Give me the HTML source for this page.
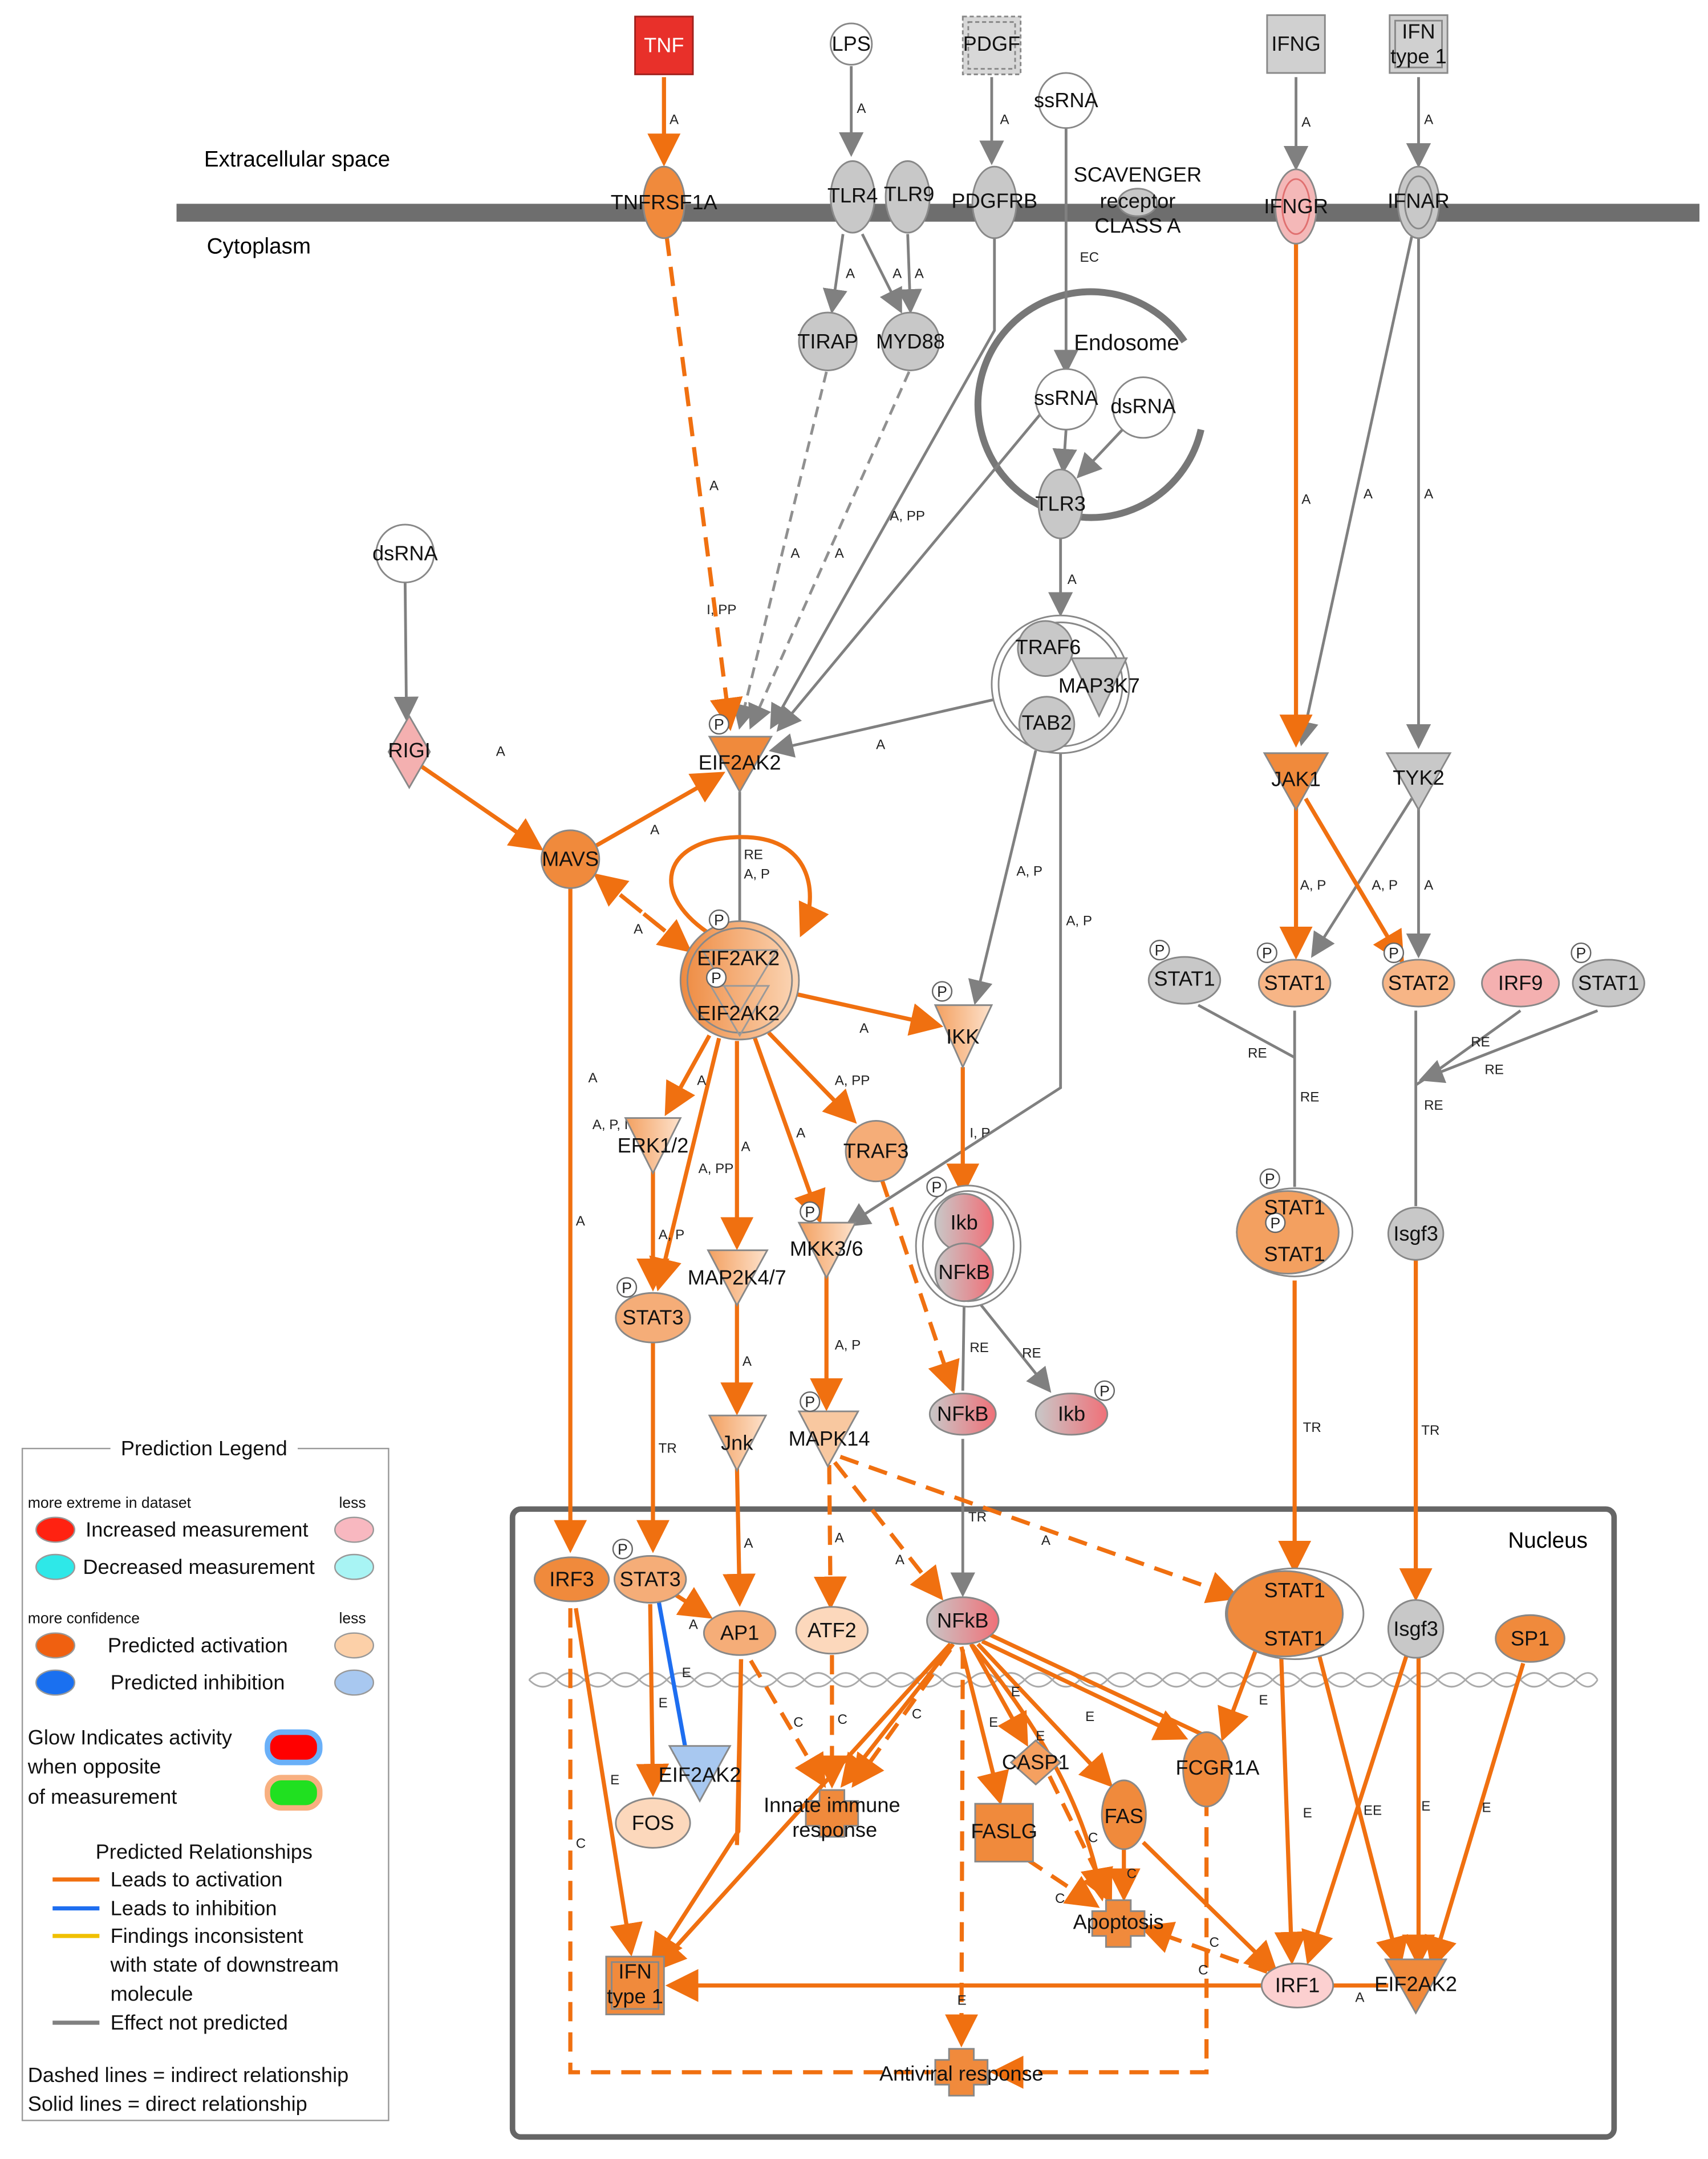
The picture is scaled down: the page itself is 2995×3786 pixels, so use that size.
<!DOCTYPE html>
<html><head><meta charset="utf-8"><style>
html,body{margin:0;padding:0;background:#fff}
svg{display:block}
text{font-family:"Liberation Sans",sans-serif}
.n{font-size:15px;text-anchor:middle;dominant-baseline:middle;fill:#111}
.l{font-size:10px;fill:#222}
.o{stroke:#f07010;stroke-width:3;fill:none}
.od{stroke:#f07010;stroke-width:3;fill:none;stroke-dasharray:14,8}
.g{stroke:#808080;stroke-width:2;fill:none}
.gd{stroke:#909090;stroke-width:2;fill:none;stroke-dasharray:8,5}
.lg{font-size:15px;fill:#111}
.ls{font-size:11px;fill:#111}
</style></head><body>
<svg width="2995" height="3786" viewBox="0 0 1240 1568" xmlns="http://www.w3.org/2000/svg">
<defs>
<marker id="ao" markerWidth="8" markerHeight="8" refX="7" refY="4" orient="auto" markerUnits="strokeWidth"><path d="M0,0 L8,4 L0,8 z" fill="#f07010"/></marker>
<marker id="ag" markerWidth="9" markerHeight="9" refX="8" refY="4.5" orient="auto" markerUnits="strokeWidth"><path d="M0,0 L9,4.5 L0,9 z" fill="#808080"/></marker>
<linearGradient id="og" x1="0" x2="1"><stop offset="0" stop-color="#ee8a40"/><stop offset="1" stop-color="#fbd7b8"/></linearGradient>
<linearGradient id="pg" x1="0" x2="1"><stop offset="0" stop-color="#c8c8c8"/><stop offset="1" stop-color="#f07078"/></linearGradient>
<linearGradient id="dg" x1="0" x2="1"><stop offset="0" stop-color="#f3a060"/><stop offset="1" stop-color="#fde2cc"/></linearGradient>
</defs>

<!-- membrane -->
<rect x="128" y="148" width="1106" height="13" fill="#6e6e6e"/>
<text x="148" y="121" style="font-size:16px">Extracellular space</text>
<text x="150" y="184" style="font-size:16px">Cytoplasm</text>

<!-- nucleus -->
<rect x="372" y="1096" width="800" height="456" rx="6" fill="none" stroke="#666" stroke-width="4"/>
<text x="1095" y="1124" style="font-size:16px">Nucleus</text>
<!-- DNA -->
<g stroke="#aaa" stroke-width="1.2" fill="none">
<path d="M384,1220 q10,-10 20,0 t20,0 t20,0 t20,0 t20,0 t20,0 t20,0 t20,0 t20,0 t20,0 t20,0 t20,0 t20,0 t20,0 t20,0 t20,0 t20,0 t20,0 t20,0 t20,0 t20,0 t20,0 t20,0 t20,0 t20,0 t20,0 t20,0 t20,0 t20,0 t20,0 t20,0 t20,0 t20,0 t20,0 t20,0 t20,0 t20,0 t20,0 t16,0"/>
<path d="M384,1220 q10,10 20,0 t20,0 t20,0 t20,0 t20,0 t20,0 t20,0 t20,0 t20,0 t20,0 t20,0 t20,0 t20,0 t20,0 t20,0 t20,0 t20,0 t20,0 t20,0 t20,0 t20,0 t20,0 t20,0 t20,0 t20,0 t20,0 t20,0 t20,0 t20,0 t20,0 t20,0 t20,0 t20,0 t20,0 t20,0 t20,0 t20,0 t20,0 t16,0"/>
</g>

<!-- endosome -->
<path d="M860,248 A82,82 0 1 0 872,312" stroke="#777" stroke-width="5" fill="none"/>
<text x="818" y="250" class="n" style="font-size:16px">Endosome</text>

<!-- gray edges -->
<g class="g">
<line x1="618" y1="48" x2="618" y2="112" marker-end="url(#ag)"/>
<line x1="720" y1="56" x2="720" y2="118" marker-end="url(#ag)"/>
<line x1="941" y1="56" x2="941" y2="122" marker-end="url(#ag)"/>
<line x1="1030" y1="56" x2="1030" y2="120" marker-end="url(#ag)"/>
<line x1="612" y1="170" x2="604" y2="226" marker-end="url(#ag)"/>
<line x1="626" y1="170" x2="654" y2="226" marker-end="url(#ag)"/>
<line x1="659" y1="170" x2="661" y2="226" marker-end="url(#ag)"/>
<polyline points="774,93 774,270" marker-end="url(#ag)"/>
<line x1="774" y1="312" x2="772" y2="342" marker-end="url(#ag)"/>
<line x1="815" y1="312" x2="783" y2="346" marker-end="url(#ag)"/>
<line x1="770" y1="390" x2="770" y2="446" marker-end="url(#ag)"/>
<polyline points="722,172 722,240 560,528" marker-end="url(#ag)"/>
<line x1="756" y1="300" x2="565" y2="530" marker-end="url(#ag)"/>
<line x1="722" y1="508" x2="560" y2="545" marker-end="url(#ag)"/>
<line x1="294" y1="422" x2="295" y2="522" marker-end="url(#ag)"/>
<line x1="537" y1="575" x2="537" y2="670"/>
<line x1="752" y1="545" x2="708" y2="728" marker-end="url(#ag)"/>
<polyline points="770,540 770,790 615,890" marker-end="url(#ag)"/>
<line x1="1025" y1="172" x2="945" y2="540" marker-end="url(#ag)"/>
<line x1="1030" y1="172" x2="1030" y2="542" marker-end="url(#ag)"/>
<line x1="1025" y1="580" x2="953" y2="694" marker-end="url(#ag)"/>
<line x1="1030" y1="585" x2="1030" y2="694" marker-end="url(#ag)"/>
<polyline points="870,730 940,768"/><line x1="940" y1="734" x2="940" y2="862"/>
<polyline points="1104,734 1040,780 1028,788"/><polyline points="1160,734 1032,784" marker-end="url(#ag)"/>
<line x1="1028" y1="734" x2="1028" y2="876"/>
<line x1="700" y1="945" x2="699" y2="1010"/>
<line x1="710" y1="945" x2="762" y2="1010" marker-end="url(#ag)"/>
</g>
<g class="gd">
<line x1="600" y1="270" x2="537" y2="528" marker-end="url(#ag)"/>
<line x1="660" y1="270" x2="545" y2="528" marker-end="url(#ag)"/>
</g>
<line x1="699" y1="1045" x2="699" y2="1158" stroke="#808080" stroke-width="2" marker-end="url(#ag)"/>

<!-- orange edges -->
<g class="o">
<line x1="482" y1="56" x2="482" y2="118" marker-end="url(#ao)"/>
<line x1="941" y1="176" x2="941" y2="540" marker-end="url(#ao)"/>
<line x1="305" y1="556" x2="392" y2="616" marker-end="url(#ao)"/>
<line x1="433" y1="614" x2="524" y2="562" marker-end="url(#ao)"/>
<path d="M518,680 C470,650 480,610 535,608 C590,606 595,650 582,678" marker-end="url(#ao)"/>
<line x1="941" y1="585" x2="941" y2="694" marker-end="url(#ao)"/>
<line x1="948" y1="580" x2="1018" y2="698" marker-end="url(#ao)"/>
<line x1="578" y1="722" x2="682" y2="745" marker-end="url(#ao)"/>
<line x1="515" y1="752" x2="484" y2="808" marker-end="url(#ao)"/>
<line x1="522" y1="754" x2="478" y2="935" marker-end="url(#ao)"/>
<line x1="535" y1="756" x2="535" y2="905" marker-end="url(#ao)"/>
<line x1="548" y1="754" x2="595" y2="886" marker-end="url(#ao)"/>
<line x1="558" y1="750" x2="620" y2="814" marker-end="url(#ao)"/>
<line x1="699" y1="775" x2="699" y2="866" marker-end="url(#ao)"/>
<line x1="474" y1="850" x2="474" y2="935" marker-end="url(#ao)"/>
<line x1="414" y1="645" x2="414" y2="1125" marker-end="url(#ao)"/>
<line x1="474" y1="975" x2="474" y2="1125" marker-end="url(#ao)"/>
<line x1="535" y1="945" x2="535" y2="1025" marker-end="url(#ao)"/>
<line x1="600" y1="925" x2="600" y2="1022" marker-end="url(#ao)"/>
<line x1="535" y1="1065" x2="537" y2="1164" marker-end="url(#ao)"/>
<line x1="940" y1="930" x2="940" y2="1140" marker-end="url(#ao)"/>
<line x1="1028" y1="915" x2="1028" y2="1160" marker-end="url(#ao)"/>
<line x1="490" y1="1158" x2="515" y2="1174" marker-end="url(#ao)"/>
<line x1="472" y1="1165" x2="474" y2="1302" marker-end="url(#ao)"/>
<line x1="418" y1="1168" x2="458" y2="1418" marker-end="url(#ao)"/>
<line x1="538" y1="1205" x2="535" y2="1340 "/>
<polyline points="538,1205 536,1330 474,1426" marker-end="url(#ao)"/>
<line x1="690" y1="1194" x2="476" y2="1430" marker-end="url(#ao)"/>
<line x1="692" y1="1194" x2="612" y2="1296" marker-end="url(#ao)"/>
<line x1="698" y1="1196" x2="726" y2="1308" marker-end="url(#ao)"/>
<line x1="705" y1="1194" x2="745" y2="1266" marker-end="url(#ao)"/>
<line x1="710" y1="1194" x2="806" y2="1296" marker-end="url(#ao)"/>
<line x1="713" y1="1192" x2="860" y2="1262" marker-end="url(#ao)"/>
<line x1="716" y1="1186" x2="878" y2="1262" />
<path d="M706,1195 C760,1260 790,1320 800,1378" marker-end="url(#ao)"/>
<line x1="915" y1="1190" x2="888" y2="1262" marker-end="url(#ao)"/>
<line x1="930" y1="1195" x2="938" y2="1424" marker-end="url(#ao)"/>
<line x1="956" y1="1195" x2="1016" y2="1428" marker-end="url(#ao)"/>
<line x1="1022" y1="1200" x2="950" y2="1424" marker-end="url(#ao)"/>
<line x1="1030" y1="1203" x2="1030" y2="1426" marker-end="url(#ao)"/>
<line x1="1106" y1="1208" x2="1040" y2="1428" marker-end="url(#ao)"/>
<line x1="830" y1="1338" x2="926" y2="1432" marker-end="url(#ao)"/>
<line x1="920" y1="1442" x2="486" y2="1442" marker-end="url(#ao)"/>
<line x1="962" y1="1442" x2="1008" y2="1442"/>
<line x1="816" y1="1342" x2="816" y2="1378" marker-end="url(#ao)"/>
</g>
<g class="od">
<line x1="484" y1="172" x2="530" y2="528" marker-end="url(#ao)"/>
<line x1="433" y1="636" x2="500" y2="690" marker-end="url(#ao)"/>
<line x1="500" y1="690" x2="433" y2="636" marker-end="url(#ao)"/>
<line x1="640" y1="856" x2="692" y2="1010" marker-end="url(#ao)"/>
<line x1="606" y1="1062" x2="683" y2="1160" marker-end="url(#ao)"/>
<line x1="610" y1="1058" x2="898" y2="1160" marker-end="url(#ao)"/>
<line x1="602" y1="1064" x2="603" y2="1166" marker-end="url(#ao)"/>
<line x1="604" y1="1202" x2="604" y2="1296" marker-end="url(#ao)"/>
<line x1="545" y1="1206" x2="598" y2="1296" marker-end="url(#ao)"/>
<line x1="690" y1="1198" x2="620" y2="1296" marker-end="url(#ao)"/>
<line x1="699" y1="1198" x2="698" y2="1484" marker-end="url(#ao)"/>
<polyline points="414,1168 414,1505 676,1505"/>
<polyline points="876,1305 876,1505 722,1505" marker-end="url(#ao)"/>
<line x1="745" y1="1350" x2="796" y2="1384" marker-end="url(#ao)"/>
<line x1="762" y1="1290" x2="806" y2="1380" marker-end="url(#ao)"/>
<line x1="920" y1="1432" x2="830" y2="1400" marker-end="url(#ao)"/>
</g>
<line x1="478" y1="1162" x2="498" y2="1272" stroke="#1e6ef0" stroke-width="3"/>
<line x1="488" y1="1272" x2="508" y2="1270" stroke="#1e6ef0" stroke-width="3"/>

<!-- edge labels -->
<g class="l">
<text x="486" y="90">A</text><text x="622" y="82">A</text><text x="726" y="90">A</text><text x="945" y="92">A</text><text x="1034" y="90">A</text>
<text x="614" y="202">A</text><text x="648" y="202">A</text><text x="664" y="202">A</text><text x="784" y="190">EC</text>
<text x="515" y="356">A</text><text x="574" y="405">A</text><text x="606" y="405">A</text><text x="646" y="378">A, PP</text><text x="513" y="446">I, PP</text>
<text x="775" y="424">A</text><text x="636" y="544">A</text><text x="360" y="549">A</text><text x="472" y="606">A</text><text x="460" y="678">A</text>
<text x="540" y="624">RE</text><text x="540" y="638">A, P</text>
<text x="945" y="366">A</text><text x="990" y="362">A</text><text x="1034" y="362">A</text>
<text x="944" y="646">A, P</text><text x="996" y="646">A, P</text><text x="1034" y="646">A</text>
<text x="738" y="636">A, P</text><text x="774" y="672">A, P</text><text x="624" y="750">A</text>
<text x="906" y="768">RE</text><text x="944" y="800">RE</text><text x="1068" y="760">RE</text><text x="1078" y="780">RE</text><text x="1034" y="806">RE</text>
<text x="427" y="786">A</text><text x="506" y="788">A</text><text x="430" y="820">A, P, I</text><text x="538" y="836">A</text><text x="507" y="852">A, PP</text><text x="578" y="826">A</text><text x="606" y="788">A, PP</text>
<text x="704" y="826">I, P</text><text x="478" y="900">A, P</text><text x="418" y="890">A</text>
<text x="704" y="982">RE</text><text x="742" y="986">RE</text><text x="606" y="980">A, P</text><text x="539" y="992">A</text>
<text x="478" y="1055">TR</text><text x="703" y="1105">TR</text><text x="946" y="1040">TR</text><text x="1032" y="1042">TR</text>
<text x="540" y="1124">A</text><text x="606" y="1120">A</text><text x="650" y="1136">A</text><text x="756" y="1122">A</text><text x="500" y="1183">A</text>
<text x="495" y="1218">E</text><text x="478" y="1240">E</text><text x="443" y="1296">E</text><text x="418" y="1342">C</text>
<text x="576" y="1254">C</text><text x="608" y="1252">C</text><text x="662" y="1248">C</text><text x="718" y="1254">E</text><text x="734" y="1232">E</text><text x="752" y="1264">E</text><text x="788" y="1250">E</text><text x="790" y="1338">C</text><text x="766" y="1382">C</text><text x="818" y="1364">C</text>
<text x="914" y="1238">E</text><text x="946" y="1320">E</text><text x="990" y="1318">EE</text><text x="1032" y="1315">E</text><text x="1076" y="1316">E</text><text x="878" y="1414">C</text><text x="870" y="1434">C</text><text x="984" y="1454">A</text><text x="695" y="1456">E</text>
</g>

<!-- nodes -->
<g stroke="#888" stroke-width="1.2">
<rect x="461" y="12" width="42" height="42" fill="#e8302a" stroke="#a0201c"/>
<circle cx="618" cy="32" r="15" fill="#fff"/>
<rect x="699" y="12" width="42" height="42" fill="#d8d8d8" stroke-dasharray="3,2"/><rect x="703" y="16" width="34" height="34" fill="none" stroke-dasharray="3,2"/>
<circle cx="774" cy="73" r="20" fill="#fff"/>
<rect x="920" y="11" width="42" height="42" fill="#d0d0d0"/>
<rect x="1009" y="11" width="42" height="42" fill="#d0d0d0"/><rect x="1013" y="15" width="34" height="34" fill="none"/>
<ellipse cx="482" cy="147" rx="15" ry="26" fill="#f08a3c"/>
<ellipse cx="619" cy="143" rx="16" ry="26" fill="#c8c8c8"/>
<ellipse cx="659" cy="143" rx="16" ry="26" fill="#c8c8c8"/>
<ellipse cx="722" cy="147" rx="16" ry="26" fill="#c8c8c8"/>
<ellipse cx="826" cy="147" rx="14" ry="10" fill="#c8c8c8"/>
<ellipse cx="941" cy="150" rx="15" ry="27" fill="#f4b8b8"/><ellipse cx="941" cy="150" rx="10" ry="20" fill="none" stroke="#e07070"/>
<ellipse cx="1030" cy="147" rx="15" ry="26" fill="#c8c8c8"/><ellipse cx="1030" cy="147" rx="10" ry="19" fill="none"/>
<circle cx="601" cy="248" r="21" fill="#c8c8c8"/>
<circle cx="661" cy="248" r="21" fill="#c8c8c8"/>
<circle cx="774" cy="290" r="22" fill="#fff"/>
<circle cx="830" cy="296" r="22" fill="#fff"/>
<ellipse cx="770" cy="366" rx="16" ry="25" fill="#c8c8c8"/>
<circle cx="770" cy="497" r="50" fill="#fff"/><circle cx="770" cy="497" r="45" fill="none"/>
<circle cx="759" cy="471" r="20" fill="#c8c8c8"/>
<path d="M778,478 L818,478 L798,520 z" fill="#c8c8c8"/>
<circle cx="760" cy="526" r="20" fill="#c8c8c8"/>
<circle cx="294" cy="402" r="21" fill="#fff"/>
<path d="M297,520 L312,546 L297,572 L282,546 z" fill="#f4b0b0"/>
<path d="M515,535 L560,535 L537,575 z" fill="#f08a3c"/>
<circle cx="414" cy="624" r="21" fill="#f08a3c"/>
<circle cx="537" cy="712" r="43" fill="url(#og)"/><circle cx="537" cy="712" r="38" fill="none"/>
<path d="M510,690 L564,690 L537,735 z" fill="none" stroke="#999"/>
<path d="M516,716 L558,716 L537,752 z" fill="none" stroke="#999"/>
<path d="M679,730 L720,730 L699,775 z" fill="url(#dg)"/>
<path d="M918,547 L964,547 L941,588 z" fill="#f08a3c"/>
<path d="M1007,547 L1053,547 L1030,588 z" fill="#c8c8c8"/>
<ellipse cx="860" cy="712" rx="26" ry="17" fill="#c8c8c8"/>
<ellipse cx="940" cy="714" rx="26" ry="17" fill="#f7b586"/>
<ellipse cx="1030" cy="714" rx="26" ry="17" fill="#f7b586"/>
<ellipse cx="1104" cy="714" rx="28" ry="17" fill="#f4b0b0"/>
<ellipse cx="1168" cy="714" rx="26" ry="17" fill="#c8c8c8"/>
<path d="M454,812 L494,812 L474,852 z" fill="url(#dg)"/>
<circle cx="636" cy="836" r="22" fill="#f5ad78"/>
<ellipse cx="474" cy="957" rx="27" ry="18" fill="#f5ad78"/>
<path d="M514,908 L557,908 L535,948 z" fill="url(#dg)"/>
<path d="M580,888 L621,888 L600,928 z" fill="url(#dg)"/>
<ellipse cx="703" cy="905" rx="38" ry="44" fill="#fff"/><ellipse cx="703" cy="905" rx="33" ry="40" fill="none"/>
<circle cx="700" cy="888" r="21" fill="url(#pg)"/>
<circle cx="700" cy="924" r="21" fill="url(#pg)"/>
<ellipse cx="699" cy="1027" rx="24" ry="15" fill="url(#pg)"/>
<ellipse cx="778" cy="1027" rx="26" ry="15" fill="url(#pg)"/>
<path d="M515,1028 L556,1028 L535,1068 z" fill="url(#dg)"/>
<path d="M580,1025 L623,1025 L601,1065 z" fill="#f8c8a0"/>
<ellipse cx="940" cy="895" rx="42" ry="32" fill="#fff"/><ellipse cx="935" cy="895" rx="37" ry="30" fill="#f3a060"/>
<ellipse cx="1028" cy="896" rx="20" ry="19" fill="#c8c8c8"/>
<!-- nucleus nodes -->
<ellipse cx="415" cy="1147" rx="27" ry="16" fill="#f08a3c"/>
<ellipse cx="472" cy="1147" rx="26" ry="17" fill="#f5ad78"/>
<ellipse cx="537" cy="1186" rx="26" ry="16" fill="#f5ad78"/>
<ellipse cx="604" cy="1184" rx="26" ry="17" fill="#fcd8bc"/>
<ellipse cx="699" cy="1177" rx="26" ry="17" fill="url(#pg)"/>
<ellipse cx="940" cy="1172" rx="50" ry="33" fill="#fff"/><ellipse cx="933" cy="1172" rx="42" ry="31" fill="#f08a3c"/>
<ellipse cx="1028" cy="1183" rx="20" ry="21" fill="#c8c8c8"/>
<ellipse cx="1111" cy="1190" rx="25" ry="17" fill="#f08a3c"/>
<path d="M486,1268 L530,1268 L508,1308 z" fill="#a8c8f0"/>
<ellipse cx="474" cy="1324" rx="27" ry="18" fill="#fcd8bc"/>
<path d="M595,1300 h18 v8 h10 v18 h-10 v8 h-18 v-8 h-10 v-18 h10 z" fill="#f08a3c"/>
<path d="M752,1264 L770,1280 L752,1296 L734,1280 z" fill="#f5a060"/>
<ellipse cx="816" cy="1318" rx="16" ry="25" fill="#f08a3c"/>
<rect x="708" y="1310" width="42" height="42" fill="#f08a3c"/>
<ellipse cx="876" cy="1285" rx="17" ry="27" fill="#f08a3c"/>
<path d="M803,1380 h18 v8 h10 v18 h-10 v8 h-18 v-8 h-10 v-18 h10 z" fill="#f08a3c"/>
<rect x="440" y="1421" width="42" height="42" fill="#f08a3c"/><rect x="444" y="1425" width="34" height="34" fill="none"/>
<ellipse cx="942" cy="1442" rx="26" ry="16" fill="#fcd0d0"/>
<path d="M1006,1423 L1050,1423 L1028,1462 z" fill="#f08a3c"/>
<path d="M689,1488 h18 v8 h10 v18 h-10 v8 h-18 v-8 h-10 v-18 h10 z" fill="#f08a3c"/>
</g>
<!-- P markers -->
<g fill="#fff" stroke="#666" stroke-width="1">
<circle cx="522" cy="526" r="7"/><circle cx="522" cy="668" r="7"/><circle cx="520" cy="710" r="7"/><circle cx="684" cy="720" r="7"/>
<circle cx="842" cy="690" r="7"/><circle cx="920" cy="692" r="7"/><circle cx="1012" cy="692" r="7"/><circle cx="1148" cy="692" r="7"/>
<circle cx="588" cy="880" r="7"/><circle cx="680" cy="862" r="7"/><circle cx="455" cy="935" r="7"/><circle cx="588" cy="1018" r="7"/><circle cx="802" cy="1010" r="7"/>
<circle cx="922" cy="856" r="7"/><circle cx="926" cy="888" r="7"/><circle cx="452" cy="1125" r="7"/>
</g>
<g class="l" style="font-size:11px" text-anchor="middle">
<text x="522" y="530" text-anchor="middle">P</text><text x="522" y="672">P</text><text x="520" y="714">P</text><text x="684" y="724">P</text>
<text x="842" y="694">P</text><text x="920" y="696">P</text><text x="1012" y="696">P</text><text x="1148" y="696">P</text>
<text x="588" y="884">P</text><text x="680" y="866">P</text><text x="455" y="939">P</text><text x="588" y="1022">P</text><text x="802" y="1014">P</text>
<text x="922" y="860">P</text><text x="926" y="892">P</text><text x="452" y="1129">P</text>
</g>

<!-- node labels -->
<g class="n">
<text x="482" y="34" fill="#fff">TNF</text><text x="618" y="33">LPS</text><text x="720" y="33">PDGF</text><text x="774" y="74">ssRNA</text>
<text x="941" y="33">IFNG</text><text x="1030" y="24">IFN</text><text x="1030" y="42">type 1</text>
<text x="482" y="148">TNFRSF1A</text><text x="619" y="143">TLR4</text><text x="660" y="142">TLR9</text><text x="722" y="147">PDGFRB</text>
<text x="826" y="128">SCAVENGER</text><text x="826" y="147">receptor</text><text x="826" y="165">CLASS A</text>
<text x="941" y="151">IFNGR</text><text x="1030" y="147">IFNAR</text>
<text x="601" y="249">TIRAP</text><text x="661" y="249">MYD88</text><text x="774" y="290">ssRNA</text><text x="830" y="296">dsRNA</text><text x="770" y="367">TLR3</text>
<text x="761" y="471">TRAF6</text><text x="798" y="499">MAP3K7</text><text x="760" y="526">TAB2</text>
<text x="294" y="403">dsRNA</text><text x="297" y="546">RIGI</text><text x="537" y="555">EIF2AK2</text><text x="414" y="625">MAVS</text>
<text x="536" y="697">EIF2AK2</text><text x="536" y="737">EIF2AK2</text><text x="699" y="754">IKK</text>
<text x="941" y="567">JAK1</text><text x="1030" y="566">TYK2</text>
<text x="860" y="712">STAT1</text><text x="940" y="715">STAT1</text><text x="1030" y="715">STAT2</text><text x="1104" y="715">IRF9</text><text x="1168" y="715">STAT1</text>
<text x="474" y="833">ERK1/2</text><text x="636" y="837">TRAF3</text><text x="474" y="958">STAT3</text><text x="535" y="929">MAP2K4/7</text><text x="600" y="908">MKK3/6</text>
<text x="700" y="889">Ikb</text><text x="700" y="925">NFkB</text><text x="699" y="1028">NFkB</text><text x="778" y="1028">Ikb</text><text x="535" y="1049">Jnk</text><text x="602" y="1046">MAPK14</text>
<text x="940" y="878">STAT1</text><text x="940" y="912">STAT1</text><text x="1028" y="897">Isgf3</text>
<text x="415" y="1148">IRF3</text><text x="472" y="1148">STAT3</text><text x="537" y="1187">AP1</text><text x="604" y="1185">ATF2</text><text x="699" y="1178">NFkB</text>
<text x="940" y="1156">STAT1</text><text x="940" y="1191">STAT1</text><text x="1028" y="1184">Isgf3</text><text x="1111" y="1191">SP1</text>
<text x="508" y="1290">EIF2AK2</text><text x="474" y="1325">FOS</text><text x="604" y="1312">Innate immune</text><text x="606" y="1330">response</text>
<text x="752" y="1281">CASP1</text><text x="816" y="1320">FAS</text><text x="729" y="1331">FASLG</text><text x="884" y="1285">FCGR1A</text>
<text x="812" y="1397">Apoptosis</text><text x="461" y="1433">IFN</text><text x="461" y="1451">type 1</text><text x="942" y="1443">IRF1</text><text x="1028" y="1442">EIF2AK2</text>
<text x="698" y="1507">Antiviral response</text>
</g>

<!-- legend -->
<rect x="16" y="1052" width="266" height="488" fill="#fff" stroke="#999"/>
<rect x="80" y="1044" width="136" height="16" fill="#fff"/>
<text x="148" y="1057" class="lg" text-anchor="middle">Prediction Legend</text>
<text x="20" y="1095" class="ls">more extreme in dataset</text><text x="246" y="1095" class="ls">less</text>
<ellipse cx="40" cy="1111" rx="14" ry="9" fill="#f21" stroke="#999"/><text x="62" y="1116" class="lg">Increased measurement</text><ellipse cx="257" cy="1111" rx="14" ry="9" fill="#f8b8c0" stroke="#999"/>
<ellipse cx="40" cy="1138" rx="14" ry="9" fill="#2ee8e8" stroke="#999"/><text x="60" y="1143" class="lg">Decreased measurement</text><ellipse cx="257" cy="1138" rx="14" ry="9" fill="#a8f4f4" stroke="#999"/>
<text x="20" y="1179" class="ls">more confidence</text><text x="246" y="1179" class="ls">less</text>
<ellipse cx="40" cy="1195" rx="14" ry="9" fill="#f06010" stroke="#999"/><text x="78" y="1200" class="lg">Predicted activation</text><ellipse cx="257" cy="1195" rx="14" ry="9" fill="#fcd0a8" stroke="#999"/>
<ellipse cx="40" cy="1222" rx="14" ry="9" fill="#1a70f0" stroke="#999"/><text x="80" y="1227" class="lg">Predicted inhibition</text><ellipse cx="257" cy="1222" rx="14" ry="9" fill="#a8c8f0" stroke="#999"/>
<text x="20" y="1267" class="lg">Glow Indicates activity</text><text x="20" y="1288" class="lg">when opposite</text><text x="20" y="1310" class="lg">of measurement</text>
<rect x="194" y="1258" width="38" height="22" rx="10" fill="#f00" stroke="#6ab0f8" stroke-width="4"/>
<rect x="194" y="1291" width="38" height="22" rx="10" fill="#20e020" stroke="#f8b080" stroke-width="4"/>
<text x="148" y="1350" class="lg" text-anchor="middle">Predicted Relationships</text>
<line x1="38" y1="1365" x2="72" y2="1365" stroke="#f07010" stroke-width="3"/><text x="80" y="1370" class="lg">Leads to activation</text>
<line x1="38" y1="1386" x2="72" y2="1386" stroke="#1e6ef0" stroke-width="3"/><text x="80" y="1391" class="lg">Leads to inhibition</text>
<line x1="38" y1="1406" x2="72" y2="1406" stroke="#f0c000" stroke-width="3"/><text x="80" y="1411" class="lg">Findings inconsistent</text>
<text x="80" y="1432" class="lg">with state of downstream</text><text x="80" y="1453" class="lg">molecule</text>
<line x1="38" y1="1469" x2="72" y2="1469" stroke="#808080" stroke-width="3"/><text x="80" y="1474" class="lg">Effect not predicted</text>
<text x="20" y="1512" class="lg">Dashed lines = indirect relationship</text>
<text x="20" y="1533" class="lg">Solid lines = direct relationship</text>
</svg>
</body></html>
